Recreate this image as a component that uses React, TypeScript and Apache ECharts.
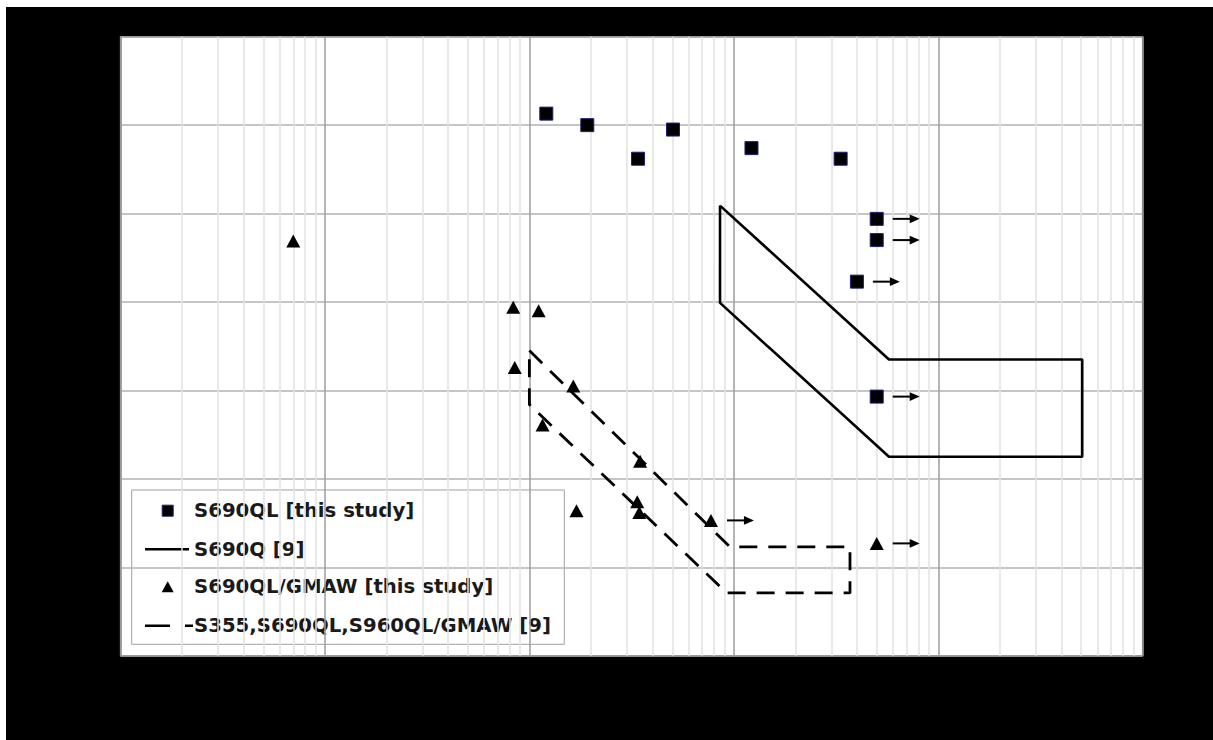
import React, { useEffect, useRef } from "react";
import * as echarts from "echarts";

// Cycles to failure N, stress S [MPa]
const s690qlFailed: [number, number][] = [
  [121000, 613],
  [192000, 600],
  [340000, 562],
  [504000, 595],
  [1220000, 574],
  [3330000, 562],
];
const s690qlRunout: [number, number][] = [
  [5000000, 494],
  [5000000, 470],
  [4000000, 423],
  [5000000, 293],
];
const gmawFailed: [number, number][] = [
  [7000, 469],
  [83400, 394],
  [111000, 390],
  [84800, 326],
  [164000, 305],
  [116000, 261],
  [348000, 220],
  [170000, 164],
  [337000, 174],
  [345000, 162],
];
const gmawRunout: [number, number][] = [
  [773000, 153],
  [5000000, 127],
];

// Scatter bands from reference [9]
const s690qBand: [number, number][] = [
  [856000, 509],
  [5740000, 335],
  [50600000, 335],
  [50600000, 225],
  [5740000, 225],
  [856000, 399],
  [856000, 509],
];
const gmawBand: [number, number][] = [
  [100000, 345],
  [958000, 123],
  [3700000, 123],
  [3700000, 71],
  [923000, 71],
  [100000, 284],
  [100000, 345],
];

const legendNames = [
  "S690QL [this study]",
  "S690Q [9]",
  "S690QL/GMAW [this study]",
  "S355,S690QL,S960QL/GMAW [9]",
];

const xMin = 1e3;
const xMax = 1e8;
const yMin = 0;
const yMax = 700;
const yStep = 100;

const SQUARE_FILL = "#000";
const SQUARE_EDGE = "#1e1e78";
const DASH = [18, 11];

// intermediate log grid lines: 2..9 x 10^k inside the axis range
function minorLogLines(min: number, max: number): number[] {
  const out: number[] = [];
  for (let d = min; d < max; d *= 10) {
    for (let m = 2; m <= 9; m++) out.push(m * d);
  }
  return out;
}

// hand-built legend box so that marker icons keep their own shape
function legendGraphic() {
  const boxX = 125.7;
  const boxY = 483;
  const rowY = [503.7, 542.3, 579.7, 618.7];
  const iconL = 139;
  const iconC = 161.7;
  const textX = 188;
  const font = {
    fontFamily: "DejaVu Sans",
    fontWeight: "bold",
    fontSize: 19.7,
  };
  const children: any[] = [
    {
      type: "rect",
      shape: { x: boxX, y: boxY, width: 432.6, height: 154.3 },
      style: { fill: "#fff", stroke: "#a0a0a0", lineWidth: 1 },
    },
    {
      type: "rect",
      shape: { x: iconC - 5.5, y: rowY[0] - 5.5, width: 11, height: 11 },
      style: { fill: SQUARE_FILL, stroke: SQUARE_EDGE, lineWidth: 1 },
    },
    {
      type: "line",
      shape: { x1: iconL, y1: rowY[1], x2: iconL + 44, y2: rowY[1] },
      style: { stroke: "#000", lineWidth: 2.5 },
    },
    {
      type: "polygon",
      shape: {
        points: [
          [iconC, rowY[2] - 5.5],
          [iconC + 6, rowY[2] + 5.5],
          [iconC - 6, rowY[2] + 5.5],
        ],
      },
      style: { fill: "#000" },
    },
    {
      type: "line",
      shape: { x1: iconL, y1: rowY[3], x2: iconL + 48, y2: rowY[3] },
      style: { stroke: "#000", lineWidth: 2.5, lineDash: [25, 15] },
    },
  ];
  legendNames.forEach((name, i) => {
    children.push({
      type: "text",
      style: {
        text: name,
        x: textX,
        y: rowY[i],
        fill: "#1a1a1a",
        align: "left",
        verticalAlign: "middle",
        ...font,
      },
    });
  });
  return { type: "group", z: 10, silent: true, children };
}

export default function App() {
  const ref = useRef<HTMLDivElement>(null);

  useEffect(() => {
    const chart = echarts.init(ref.current!, undefined, { renderer: "svg" });

    const runouts = [...s690qlRunout, ...gmawRunout];

    chart.setOption({
      animation: false,
      backgroundColor: "#000",
      grid: {
        left: 114.5,
        top: 29.7,
        width: 1022.2,
        height: 619,
        show: true,
        backgroundColor: "#fff",
        borderColor: "#5a5a5a",
        borderWidth: 1.5,
      },
      xAxis: {
        type: "log",
        logBase: 10,
        min: xMin,
        max: xMax,
        axisLine: { show: false },
        axisTick: { show: false },
        axisLabel: { show: false },
        splitLine: { show: true, lineStyle: { color: "#9c9c9c", width: 1.5 } },
      },
      yAxis: {
        type: "value",
        min: yMin,
        max: yMax,
        interval: yStep,
        axisLine: { show: false },
        axisTick: { show: false },
        axisLabel: { show: false },
        splitLine: { show: true, lineStyle: { color: "#b2b2b2", width: 1.5 } },
      },
      graphic: [legendGraphic()],
      series: [
        {
          name: legendNames[0],
          type: "scatter",
          data: [...s690qlFailed, ...s690qlRunout],
          symbol: "rect",
          symbolSize: 13,
          itemStyle: {
            color: SQUARE_FILL,
            borderColor: SQUARE_EDGE,
            borderWidth: 1,
            opacity: 1,
          },
          z: 4,
        },
        {
          name: legendNames[1],
          type: "line",
          data: s690qBand,
          symbol: "none",
          color: "#000",
          lineStyle: { color: "#000", width: 2.6, type: "solid" },
          z: 3,
          markLine: {
            silent: true,
            symbol: "none",
            z: 1,
            label: { show: false },
            lineStyle: { color: "#e2e2e2", width: 1.5, type: "solid" },
            data: minorLogLines(xMin, xMax).map((v) => ({ xAxis: v })),
          },
        },
        {
          name: legendNames[2],
          type: "scatter",
          data: [...gmawFailed, ...gmawRunout],
          symbol: "triangle",
          symbolSize: [14, 13],
          itemStyle: { color: "#000", opacity: 1 },
          z: 4,
        },
        {
          name: legendNames[3],
          type: "line",
          data: gmawBand,
          symbol: "none",
          color: "#000",
          lineStyle: { color: "#000", width: 2.8, type: DASH },
          z: 3,
        },
        {
          name: "runout",
          type: "custom",
          data: runouts,
          encode: { x: 0, y: 1 },
          z: 4,
          silent: true,
          renderItem: (_params: any, api: any) => {
            const p = api.coord([api.value(0), api.value(1)]);
            const y = p[1];
            const xs = p[0] + 16;
            const xe = p[0] + 43;
            return {
              type: "group",
              children: [
                {
                  type: "line",
                  shape: { x1: xs, y1: y, x2: xe - 8, y2: y },
                  style: { stroke: "#000", lineWidth: 2 },
                },
                {
                  type: "polygon",
                  shape: {
                    points: [
                      [xe, y],
                      [xe - 10, y - 4.3],
                      [xe - 10, y + 4.3],
                    ],
                  },
                  style: { fill: "#000" },
                },
              ],
            };
          },
        },
      ],
    });

    return () => {
      chart.dispose();
    };
  }, []);

  return (
    <div
      ref={ref}
      style={{
        position: "fixed",
        left: 6,
        top: 7,
        width: 1207,
        height: 733,
        background: "#000",
      }}
    />
  );
}
